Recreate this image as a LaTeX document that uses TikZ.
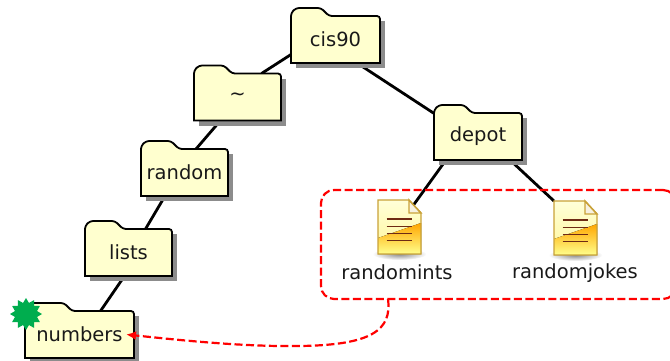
\documentclass[tikz,border=0pt]{standalone}
\usepackage{fontspec}
\setmainfont{DejaVu Sans}
\usepackage{tikz}
\usetikzlibrary{shapes.geometric, arrows.meta, calc}
\pgfdeclarelayer{bg}
\pgfsetlayers{bg,main}
\definecolor{folderfill}{HTML}{FFFFCF}
\definecolor{foldershadow}{HTML}{8C8C8C}
\definecolor{iconborder}{HTML}{C9A238}
\definecolor{iconline}{HTML}{6E2A14}
\definecolor{badge}{HTML}{00AD4E}
\newcommand{\Folder}[6]{%
  \fill[foldershadow] (#2+5, #3+5) rectangle (#2+#4+5, #3-42);
  \draw[FolderLine] [rounded corners=3pt] (#2, #3-40) -- (#2, #3-50) -- (#2+5, #3-55)
    -- (#2+#5-8, #3-55) -- (#2+#5, #3-47) -- (#2+#4, #3-47)
    [sharp corners] -- (#2+#4, #3) -- (#2, #3) -- cycle;
  \node[FolderText, minimum width=#4] (#1) at (#2+#4/2, #3-23.5) {#6};
}
\newcommand{\FileIcon}[5]{%
  \shade[inner color=black!45, outer color=white] (#2+21.5, #3+54) ellipse (27 and 6);
  \begin{scope}
    \clip (#2, #3) -- (#2+31, #3) -- (#2+43, #3+13) -- (#2+43, #3+54) -- (#2, #3+54) -- cycle;
    \fill[top color=white!85!yellow, bottom color=white!70!yellow!95!orange] (#2, #3) rectangle (#2+43, #3+40);
    \fill[bottom color=yellow!45, top color=orange!70!yellow] (#2, #3+38) -- (#2+43, #3+23) -- (#2+43, #3+54) -- (#2, #3+54) -- cycle;
  \end{scope}
  \draw[iconborder, line width=1.4pt, fill=white!85!iconborder] (#2+31, #3) -- (#2+31, #3+13) -- (#2+43, #3+13) -- cycle;
  \draw[iconborder, line width=1.4pt] (#2, #3) -- (#2+31, #3) -- (#2+43, #3+13) -- (#2+43, #3+54) -- (#2, #3+54) -- cycle;
  \foreach \liney in {19, 26.5, 33.5, 40.5}
    \draw[iconline, line width=1.8pt] (#2+8.7, #3+\liney) -- (#2+34, #3+\liney);
  \node[IconBox] (#1) at (#2+21.5, #3+27) {};
  \node[NameText] (#1Text) at (#4, #3+72) {#5};
}

\begin{document}
\begin{tikzpicture}
  [
    x=1pt, y=-1pt,
    FolderLine/.style={draw=black, fill=folderfill, line width=1.8pt},
    FolderText/.style={inner sep=0pt, outer sep=0pt, minimum height=47pt, text=black!90, font=\fontsize{19.5}{23}\selectfont},
    NameText/.style={inner sep=0pt, text=black!90, font=\fontsize{19.5}{23}\selectfont},
    IconBox/.style={inner sep=0pt, outer sep=0pt, minimum width=43pt, minimum height=54pt},
    GroupBox/.style={draw=red, dash pattern=on 8pt off 3.5pt, line width=2.2pt, rounded corners=13pt, inner sep=0pt, outer sep=0pt, minimum width=355pt, minimum height=109pt},
    Badge/.style={star, star points=12, star point ratio=1.4, fill=badge, inner sep=0pt, minimum size=32pt},
    Tree/.style={draw=black, line width=2.8pt}
  ]
  \useasboundingbox (0, 0) rectangle (670, 360);
  \clip (0, 0) rectangle (670, 360);
  % Nodes
  \Folder{cis90}{291}{63}{89}{38}{cis90}
  \Folder{home}{194}{120.5}{87}{38}{\textasciitilde}
  \Folder{random}{141}{196}{87}{38}{random}
  \Folder{lists}{85}{276}{87}{38}{lists}
  \Folder{numbers}{25}{358}{109}{47}{numbers}
  \Folder{depot}{434}{160}{88}{38}{depot}
  \FileIcon{randomints}{378}{200}{397}{randomints}
  \FileIcon{randomjokes}{554}{201}{575}{randomjokes}
  \node[Badge] (newmark) at (26, 314) {};
  \node[GroupBox] (group) at (498.5, 244.5) {};
  % Lines
  \begin{pgfonlayer}{bg}
    \path [Tree] ([yshift=-15pt]cis90.west) -- ([xshift=24pt]home.north);
    \path [Tree] ([xshift=-17pt]home.south) -- ([xshift=11.5pt]random.north);
    \path [Tree] ([xshift=-19.5pt]random.south) -- ([xshift=17pt]lists.north);
    \path [Tree] ([xshift=-4pt]lists.south) -- ([xshift=21pt]numbers.north);
    \path [Tree] ([xshift=21.5pt]cis90.south) -- ([xshift=-40pt,yshift=-3pt]depot.north);
    \path [Tree] ([xshift=-32pt]depot.south) -- ([xshift=14pt,yshift=-5pt]randomints.north);
    \path [Tree] ([xshift=32pt]depot.south) -- (randomjokes.north west);
  \end{pgfonlayer}
  \draw [red, dash pattern=on 8pt off 3.5pt, line width=2.2pt, -{Latex[length=10pt,width=9pt]}]
    ([xshift=-110.5pt]group.south) .. controls (392, 330) and (372, 345) .. (300, 346)
    .. controls (240, 347) and (170, 339) .. ([xshift=-8pt]numbers.east);
\end{tikzpicture}
\end{document}
